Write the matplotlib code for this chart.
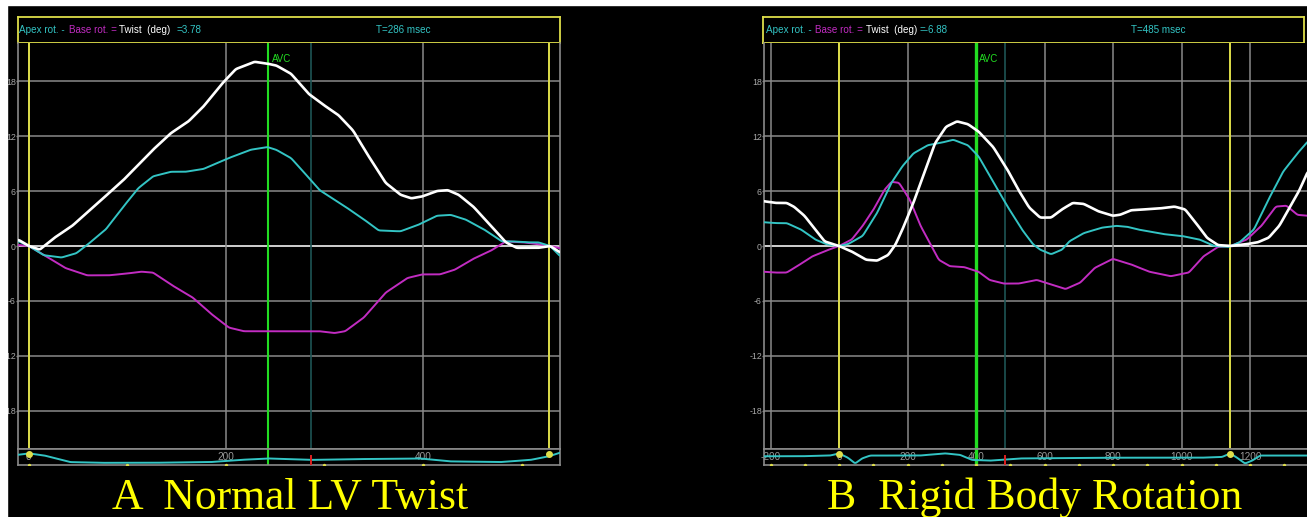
import numpy as np
import matplotlib
matplotlib.use('Agg')
import matplotlib.pyplot as plt
from matplotlib.patches import Rectangle

# ---- panel A: normal LV twist (time in msec, rotation in deg) ----
a_twist_t = [-10, 0, 11, 26, 44, 66, 96, 126, 144, 162, 177, 196, 210, 229, 242, 251, 266, 284, 299, 314,
             329, 343, 362, 377, 388, 399, 414, 425, 436, 451, 469, 484, 495, 517, 529, 539]
a_twist = [0.65, 0, -0.4, 0.9, 2.2, 4.3, 7.2, 10.5, 12.3, 13.6, 15.2, 17.7, 19.3, 20.1, 19.9, 19.7, 18.8, 16.6,
           15.4, 14.3, 12.6, 10.1, 6.9, 5.6, 5.2, 5.4, 6.0, 6.1, 5.6, 4.3, 2.2, 0.4, -0.2, -0.2, 0, -0.7]
a_apex_t = [-10, 0, 15, 33, 48, 59, 78, 96, 111, 126, 144, 159, 177, 188, 203, 225, 242, 251, 266, 277, 295,
            321, 340, 355, 377, 395, 414, 428, 443, 462, 480, 491, 506, 517, 529, 539]
a_apex = [0.5, 0, -1.0, -1.26, -0.8, 0.1, 1.8, 4.3, 6.3, 7.6, 8.1, 8.1, 8.4, 8.9, 9.6, 10.5, 10.8, 10.5, 9.6, 8.3,
          6.1, 4.3, 2.9, 1.7, 1.6, 2.3, 3.3, 3.4, 2.9, 1.8, 0.5, 0.5, 0.4, 0.4, 0, -1.1]
a_base_t = [-10, 0, 18, 37, 59, 81, 100, 114, 126, 144, 166, 185, 203, 218, 242, 266, 295, 310, 321, 340, 362,
            384, 399, 417, 432, 451, 469, 484, 502, 517, 529, 539]
a_base = [0.1, 0, -1.15, -2.4, -3.2, -3.2, -3.0, -2.8, -2.9, -4.2, -5.6, -7.4, -8.9, -9.3, -9.3, -9.3, -9.3, -9.5,
          -9.3, -7.8, -5.1, -3.5, -3.1, -3.1, -2.6, -1.4, -0.5, 0.5, 0.4, 0.2, 0, -0.25]
a_ecg_t = [-11, 0, 16, 42, 72, 123, 184, 214, 243, 286, 326, 397, 427, 478, 509, 528, 539]
a_ecg = [0.6, 0.7, 0.55, 0.1, 0.05, 0.05, 0.1, 0.25, 0.35, 0.25, 0.3, 0.35, 0.15, 0.1, 0.25, 0.5, 0.75]
a_marks = [0, 528]
a_avc, a_cursor = 243, 286
a_xticks = [0, 200, 400]

# ---- panel B: rigid body rotation ----
b_twist_t = [-222, -185, -153, -132, -101, -69, -42, -16, 0, 37, 79, 111, 143, 164, 185, 217, 249, 280, 312, 344,
             376, 407, 450, 492, 524, 555, 587, 619, 651, 682, 714, 756, 799, 820, 852, 894, 936, 979, 1010, 1042,
             1074, 1106, 1143, 1190, 1222, 1254, 1285, 1317, 1344, 1368]
b_twist = [4.9, 4.7, 4.7, 4.3, 3.3, 1.8, 0.5, 0.2, 0, -0.6, -1.5, -1.6, -1.0, 0.1, 1.8, 4.7, 8.0, 11.2, 13.0, 13.6,
           13.3, 12.5, 10.8, 8.3, 6.1, 4.2, 3.1, 3.1, 4.0, 4.7, 4.6, 3.8, 3.3, 3.4, 3.9, 4.0, 4.1, 4.3, 4.0, 2.5,
           0.9, 0.1, 0, 0.2, 0.4, 0.9, 2.2, 4.3, 6.1, 8.1]
b_apex_t = [-222, -185, -153, -111, -69, -37, 0, 26, 69, 111, 153, 185, 217, 259, 302, 333, 376, 407, 450, 492,
            534, 566, 587, 619, 651, 672, 714, 767, 809, 841, 873, 947, 1000, 1053, 1095, 1138, 1169, 1211, 1254,
            1296, 1338, 1368]
b_apex = [2.6, 2.5, 2.5, 1.8, 0.7, 0.2, 0, 0.2, 1.1, 3.6, 6.9, 8.7, 10.1, 11.0, 11.3, 11.6, 11.0, 9.8, 7.0, 4.3,
          1.8, 0.2, -0.4, -0.9, -0.4, 0.5, 1.4, 2.0, 2.2, 2.1, 1.8, 1.3, 1.1, 0.7, 0, -0.1, 0.4, 1.8, 5.1, 8.1,
          10.1, 11.4]
b_base_t = [-222, -185, -153, -122, -79, -37, 0, 37, 69, 101, 132, 153, 175, 206, 238, 270, 291, 323, 365, 407,
            439, 481, 524, 577, 619, 661, 704, 746, 799, 852, 905, 968, 1021, 1063, 1106, 1143, 1190, 1233, 1275,
            1306, 1338, 1368]
b_base = [-2.8, -2.9, -2.9, -2.2, -1.15, -0.5, 0, 0.7, 2.2, 4.0, 6.1, 7.0, 6.9, 5.1, 2.2, 0, -1.5, -2.2, -2.3,
          -2.8, -3.7, -4.1, -4.1, -3.7, -4.2, -4.7, -4.0, -2.4, -1.4, -2.0, -2.8, -3.3, -2.9, -1.15, -0.1, 0, 0.7,
          2.2, 4.3, 4.4, 3.4, 3.3]
b_ecg_t = [-219, -114, -26, 0, 26, 47, 67, 91, 236, 309, 353, 388, 441, 528, 762, 1054, 1118, 1142, 1165, 1185,
           1206, 1229, 1366]
b_ecg = [0.5, 0.5, 0.55, 0.7, 0.4, 0.0, 0.35, 0.55, 0.55, 0.7, 0.6, 0.25, 0.2, 0.35, 0.4, 0.4, 0.45, 0.7, 0.35,
         0.0, 0.2, 0.55, 0.55]
b_marks = [0, 1142]
b_avc, b_cursor = 400, 485
b_xticks = [-200, 0, 200, 400, 600, 800, 1000, 1200]

W, H = 1307, 517
CYAN, MAGENTA, GRID, YEL, GREEN = '#33c4c4', '#c22cc2', '#8a8a8a', '#dede4a', '#22dd22'
SANS = 'Liberation Sans'

fig = plt.figure(figsize=(W / 100, H / 100), dpi=100, facecolor='black')


def ax_px(x0, y0, x1, y1):
    ax = fig.add_axes([x0 / W, 1 - y1 / H, (x1 - x0) / W, (y1 - y0) / H])
    ax.set_facecolor('black')
    return ax


def smooth(t, v, lo, hi):
    tt = np.linspace(lo, hi, 1500)
    vv = np.interp(tt, t, v)
    k = 9
    pad = np.pad(vv, k // 2, mode='edge')
    return tt, np.convolve(pad, np.ones(k) / k, mode='valid')


def panel(px, xlim, twist_t, twist, apex_t, apex, base_t, base, ecg_t, ecg, marks, avc, cursor,
          xticks, twist_txt, cursor_txt, offsets, title, title_x, right_open=False):
    x0, x1, hx = px
    # header box
    hd = ax_px(hx, 17, x1 - (3 if right_open else 0), 43)
    hd.set_xticks([]); hd.set_yticks([])
    for s in hd.spines.values():
        s.set_color(YEL); s.set_linewidth(1.3)
    hw = x1 - hx
    fs = 7.1
    pieces = [('Apex rot. -', CYAN), ('Base rot. =', MAGENTA), ('Twist  (deg)', 'white'), (twist_txt, CYAN)]
    for (txt, c), off in zip(pieces, offsets):
        hd.text(off / hw, 0.5, txt, color=c, fontsize=fs, family=SANS, va='center', ha='left',
                transform=hd.transAxes)
    hd.text(cursor_txt[1] / hw, 0.5, cursor_txt[0], color=CYAN, fontsize=fs, family=SANS, va='center',
            ha='left', transform=hd.transAxes)

    # main plot
    ax = ax_px(x0, 43, x1, 449)
    ax.set_xlim(*xlim)
    ax.set_ylim(-22.15, 22.15)
    for s in ax.spines.values():
        s.set_color(GRID); s.set_linewidth(1.2)
    if right_open:
        ax.spines['right'].set_visible(False)
    ax.spines['top'].set_visible(False)
    yt = [18, 12, 6, 0, -6, -12, -18]
    ax.set_yticks(yt)
    ax.set_yticklabels([str(v) for v in yt], fontfamily=SANS)
    ax.set_xticks([])
    ax.tick_params(axis='y', colors=GRID, labelcolor='#a8a8a8', labelsize=6.3, length=1.5, width=1, pad=0)
    for v in yt:
        ax.axhline(v, color='#d0d0d0' if v == 0 else GRID, lw=1.4 if v == 0 else 1.1, zorder=1)
    for v in xticks:
        ax.axvline(v, color=GRID, lw=1.1, zorder=1)
    for m in marks:
        ax.axvline(m, color=YEL, lw=1.4, zorder=2)
    ax.axvline(cursor, color='#1d5555', lw=1.2, zorder=2)
    ax.axvline(avc, color=GREEN, lw=1.5 if not right_open else 2.4, zorder=2)
    ax.text(avc + (xlim[1] - xlim[0]) * 0.006, 20.4, 'AVC', color=GREEN, fontsize=7, family=SANS,
            va='center', ha='left')
    ax.plot(*smooth(base_t, base, xlim[0] - 5, xlim[1] + 5), color=MAGENTA, lw=1.4, zorder=3)
    ax.plot(*smooth(apex_t, apex, xlim[0] - 5, xlim[1] + 5), color=CYAN, lw=1.4, zorder=4)
    ax.plot(*smooth(twist_t, twist, xlim[0] - 5, xlim[1] + 5), color='white', lw=1.9, zorder=5)

    # ECG strip
    st = ax_px(x0, 449, x1, 465)
    st.set_xlim(*xlim)
    st.set_ylim(-0.1, 1.0)
    st.set_xticks([]); st.set_yticks([])
    for s in st.spines.values():
        s.set_color(GRID); s.set_linewidth(1.2)
    if right_open:
        st.spines['right'].set_visible(False)
    for v in xticks:
        st.text(v, 0.45, str(v), color='#9a9a9a', fontsize=7.2, family=SANS, ha='center', va='center',
                zorder=1)
    st.plot(*smooth(ecg_t, ecg, xlim[0], xlim[1]), color=CYAN, lw=1.4, zorder=3)
    st.axvline(avc, color=GREEN, lw=1.5 if not right_open else 2.4, zorder=2)
    st.plot([cursor, cursor], [-0.1, 0.5], color='#e02020', lw=1.4, zorder=4)
    ticks = np.arange(np.ceil(xlim[0] / 100) * 100, xlim[1], 100)
    st.scatter(ticks, np.full(len(ticks), -0.08), s=2, color=YEL, zorder=4)
    st.scatter(marks, [0.68] * len(marks), s=16, color=YEL, zorder=5)

    fig.text(title_x / W, 1 - 509 / H, title, color='#ffff00', fontsize=31.5, family='Liberation Serif',
             ha='center', va='baseline')


panel((18, 560, 18), (-11, 539), a_twist_t, a_twist, a_apex_t, a_apex, a_base_t, a_base, a_ecg_t, a_ecg,
      a_marks, a_avc, a_cursor, a_xticks, '=3.78', ('T=286 msec', 358), (1, 51, 101, 159),
      'A  Normal LV Twist', 290)
panel((764, 1307, 763), (-219, 1366), b_twist_t, b_twist, b_apex_t, b_apex, b_base_t, b_base, b_ecg_t, b_ecg,
      b_marks, b_avc, b_cursor, b_xticks, '=-6.88', ('T=485 msec', 370), (3, 52, 104, 157),
      'B  Rigid Body Rotation', 1035, right_open=True)

# white frame edge at top and left
fig.patches.append(Rectangle((0, 1 - 5 / H), 1, 5 / H, transform=fig.transFigure, color='white', zorder=20))
fig.patches.append(Rectangle((0, 0), 7 / W, 1, transform=fig.transFigure, color='white', zorder=20))

fig.savefig('out.png', dpi=100, facecolor='black')
